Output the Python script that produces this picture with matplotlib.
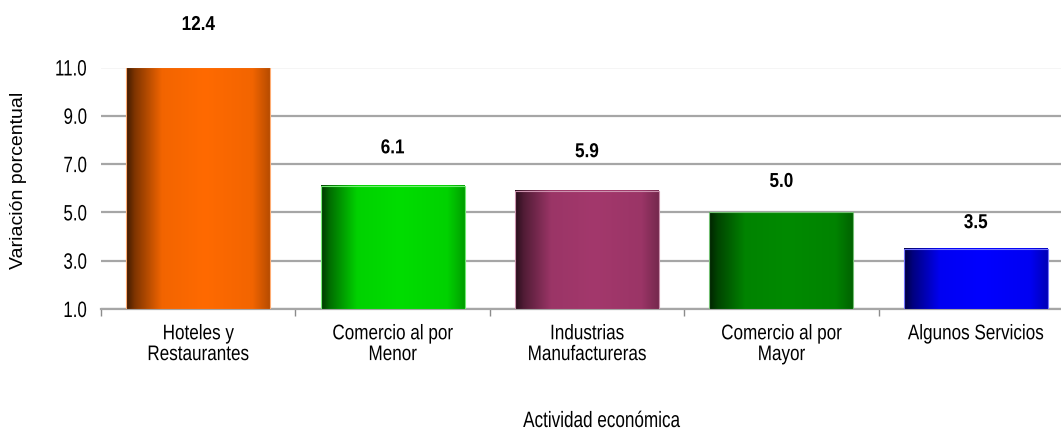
import numpy as np
import matplotlib
matplotlib.use("Agg")
import matplotlib.pyplot as plt
from matplotlib import font_manager
from matplotlib.colors import to_rgb
from matplotlib.patheffects import AbstractPathEffect
from matplotlib.transforms import Affine2D
from matplotlib.path import Path

categories = ["Hoteles y\nRestaurantes", "Comercio al por\nMenor", "Industrias\nManufactureras",
              "Comercio al por\nMayor", "Algunos Servicios"]
values = [12.4, 6.1, 5.9, 5.0, 3.5]
value_labels = ["12.4", "6.1", "5.9", "5.0", "3.5"]
yticks = [1.0, 3.0, 5.0, 7.0, 9.0, 11.0]
colors = ["#FF6A00", "#00DD00", "#A3386C", "#008A00", "#0000FF"]
label_offsets_px = [43, 38, 39, 31, 26]

names = {f.name for f in font_manager.fontManager.ttflist}
regular = "Liberation Sans" if "Liberation Sans" in names else "DejaVu Sans"


class Condense(AbstractPathEffect):
    """Horizontally compress text to mimic a narrow typeface."""

    def __init__(self, sx=0.78, anchor="center"):
        super().__init__()
        self.sx = sx
        self.anchor = anchor

    def draw_path(self, renderer, gc, tpath, affine, rgbFace=None):
        v = tpath.vertices
        if tpath.codes is not None:
            v = v[tpath.codes != Path.CLOSEPOLY]
        if len(v) == 0:
            renderer.draw_path(gc, tpath, affine, rgbFace)
            return
        d = affine.transform(v)
        if self.anchor == "right":
            cx = d[:, 0].max()
        elif self.anchor == "left":
            cx = d[:, 0].min()
        else:
            cx = 0.5 * (d[:, 0].min() + d[:, 0].max())
        t = affine + Affine2D().translate(-cx, 0).scale(self.sx, 1.0).translate(cx, 0)
        renderer.draw_path(gc, tpath, t, rgbFace)


W, H, DPI = 1061, 430, 100
fig = plt.figure(figsize=(W / DPI, H / DPI), dpi=DPI)
ax = fig.add_axes([101 / W, (H - 309) / H, 972 / W, (309 - 67.5) / H])

x = np.arange(len(values))
bars = ax.bar(x, values, width=0.74, bottom=0, color="none", zorder=3)
ymin, ymax = 1.0, 11.0

prof_t = [0.0, 0.06, 0.25, 0.55, 0.88, 1.0]
prof_f = [0.25, 0.5, 0.95, 1.0, 0.95, 0.72]
for rect, c in zip(bars, colors):
    base = np.array(to_rgb(c))
    t = np.linspace(0, 1, 200)
    f = np.interp(t, prof_t, prof_f)
    img = np.clip(base[None, :] * f[:, None], 0, 1)[None, :, :]
    x0 = rect.get_x()
    x1 = x0 + rect.get_width()
    top = min(rect.get_height(), ymax)
    ax.imshow(img, extent=[x0, x1, ymin, top], aspect="auto", zorder=3, interpolation="bilinear")
    edge = np.clip(base * 0.55 + 0.45, 0, 1)
    ax.add_patch(plt.Rectangle((x0, ymin), x1 - x0, top - ymin, fill=False,
                               edgecolor=edge, linewidth=0.8, zorder=4))

ax.set_xlim(-0.5, len(values) - 0.5)
ax.set_ylim(ymin, ymax)
ax.set_yticks(yticks)
ax.set_yticklabels([f"{v:.1f}" for v in yticks], fontfamily=regular, fontsize=16)
for lab in ax.get_yticklabels():
    lab.set_path_effects([Condense(0.76, "right")])
ax.set_xticks(x)
ax.set_xticklabels(categories, fontfamily=regular, fontsize=15.2, linespacing=1.12)
for lab in ax.get_xticklabels():
    lab.set_path_effects([Condense(0.81, "center")])
ax.set_xticks(np.arange(-0.5, len(values), 1.0), minor=True)
ax.tick_params(axis="x", which="major", length=0, pad=11)
ax.tick_params(axis="x", which="minor", length=5, color="#8C8C8C", width=1)
ax.tick_params(axis="y", length=0, pad=10)

ax.grid(axis="y", color="#A6A6A6", linewidth=1.6, zorder=1)
for s in ["top", "right", "left"]:
    ax.spines[s].set_visible(False)
ax.spines["bottom"].set_color("#A6A6A6")
ax.spines["bottom"].set_linewidth(1.6)
ax.set_axisbelow(True)

for xi, v, lab, off in zip(x, values, value_labels, label_offsets_px):
    ax.annotate(lab, (xi, min(v, ymax)), xytext=(0, off * 72 / DPI), textcoords="offset points",
                ha="center", va="center", fontfamily=regular, fontweight="bold", fontsize=14.5,
                annotation_clip=False, path_effects=[Condense(0.85, "center")])

fig.text(19 / W, 1 - 180 / H, "Variación porcentual", rotation=90, ha="center", va="center",
         fontfamily=regular, fontsize=14)
fig.text(602 / W, 1 - 427 / H, "Actividad económica", ha="center", va="baseline",
         fontfamily=regular, fontsize=16, path_effects=[Condense(0.77, "center")])

fig.savefig("out.png", dpi=DPI)
